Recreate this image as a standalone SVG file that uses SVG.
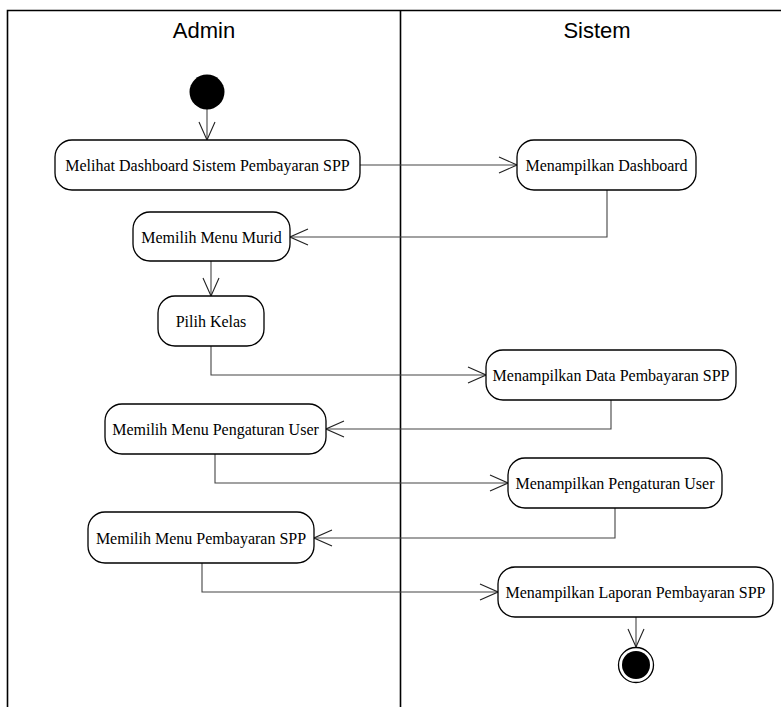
<svg xmlns="http://www.w3.org/2000/svg" width="781" height="707" viewBox="0 0 781 707">
<defs>
<style>
.lane{fill:none;stroke:#000;stroke-width:1.6}
.hdr{font-family:"Liberation Sans",Arial,sans-serif;font-size:22px;fill:#000;text-anchor:middle}
.act{fill:#fff;stroke:#000;stroke-width:1.3}
.lbl{font-family:"Liberation Serif","Times New Roman",serif;font-size:16px;fill:#000;text-anchor:middle}
.con{fill:none;stroke:#444;stroke-width:1.1}
</style>
<marker id="arr" viewBox="0 0 20 20" refX="19" refY="9" markerWidth="20" markerHeight="20" markerUnits="userSpaceOnUse" orient="auto">
<path d="M1 1 L19 9 L1 17" fill="none" stroke="#222" stroke-width="1.1"/>
</marker>
</defs>
<rect width="781" height="707" fill="#fff"/>
<g id="swimlanes">
<path class="lane" d="M7.5 720 V10.5 H790"/>
<path class="lane" d="M400.5 10.5 V720"/>
<text class="hdr" x="204" y="38">Admin</text>
<text class="hdr" x="597" y="38">Sistem</text>
</g>
<g id="connectors">
<path class="con" d="M207 109 V140" marker-end="url(#arr)"/>
<path class="con" d="M360 165 H517" marker-end="url(#arr)"/>
<path class="con" d="M607 190 V237 H290" marker-end="url(#arr)"/>
<path class="con" d="M211 261 V296" marker-end="url(#arr)"/>
<path class="con" d="M211 346 V375 H486" marker-end="url(#arr)"/>
<path class="con" d="M611 400 V429 H326" marker-end="url(#arr)"/>
<path class="con" d="M215 454 V483 H508" marker-end="url(#arr)"/>
<path class="con" d="M615 508 V538 H314" marker-end="url(#arr)"/>
<path class="con" d="M202 563 V592 H498" marker-end="url(#arr)"/>
<path class="con" d="M636 617 V647" marker-end="url(#arr)"/>
</g>
<g id="start">
<circle cx="207" cy="92" r="17.5" fill="#000"/>
</g>
<g id="n1">
<rect class="act" x="55" y="140" width="305" height="50" rx="17" ry="17"/>
<text class="lbl" x="207.5" y="170.5">Melihat Dashboard Sistem Pembayaran SPP</text>
</g>
<g id="n2">
<rect class="act" x="517" y="140" width="179" height="50" rx="17" ry="17"/>
<text class="lbl" x="606.5" y="170.5">Menampilkan Dashboard</text>
</g>
<g id="n3">
<rect class="act" x="133" y="212" width="157" height="49" rx="17" ry="17"/>
<text class="lbl" x="211.5" y="242.5">Memilih Menu Murid</text>
</g>
<g id="n4">
<rect class="act" x="158" y="296" width="106" height="50" rx="17" ry="17"/>
<text class="lbl" x="211" y="326.5">Pilih Kelas</text>
</g>
<g id="n5">
<rect class="act" x="486" y="350" width="250" height="50" rx="17" ry="17"/>
<text class="lbl" x="611" y="380.5">Menampilkan Data Pembayaran SPP</text>
</g>
<g id="n6">
<rect class="act" x="105" y="404" width="221" height="50" rx="17" ry="17"/>
<text class="lbl" x="215.5" y="434.5">Memilih Menu Pengaturan User</text>
</g>
<g id="n7">
<rect class="act" x="508" y="458" width="214" height="50" rx="17" ry="17"/>
<text class="lbl" x="615" y="488.5">Menampilkan Pengaturan User</text>
</g>
<g id="n8">
<rect class="act" x="88" y="512" width="226" height="51" rx="17" ry="17"/>
<text class="lbl" x="201" y="543.5">Memilih Menu Pembayaran SPP</text>
</g>
<g id="n9">
<rect class="act" x="498" y="567" width="275" height="50" rx="17" ry="17"/>
<text class="lbl" x="635.5" y="597.5">Menampilkan Laporan Pembayaran SPP</text>
</g>
<g id="end">
<circle cx="636" cy="665" r="17.5" fill="#fff" stroke="#000" stroke-width="1.3"/>
<circle cx="636" cy="665" r="14" fill="#000"/>
</g>
</svg>
